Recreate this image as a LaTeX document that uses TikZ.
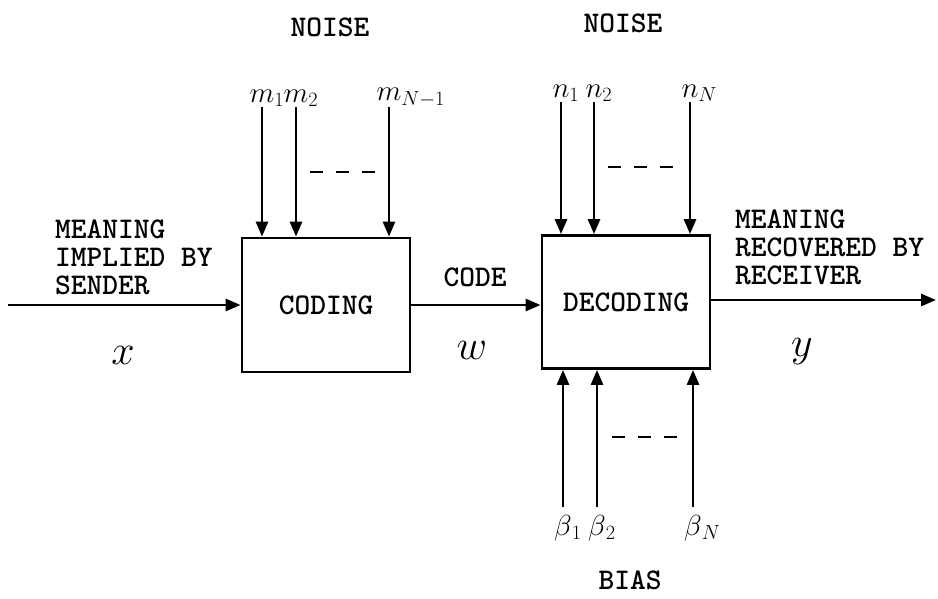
\RequirePackage{fix-cm}
\documentclass[tikz,border=0pt]{standalone}
\usepackage{fontspec}
\usetikzlibrary{arrows.meta, positioning}

\begin{document}
\begin{tikzpicture}[
  x=1pt, y=-1pt,
  blk/.style={draw, line width=2.8pt, minimum width=168pt, minimum height=134pt, inner sep=0pt, font=\ttfamily\bfseries\fontsize{30}{28}\selectfont},
  txt/.style={inner sep=0pt, align=left, font=\ttfamily\bfseries\fontsize{30}{28}\selectfont},
  sym/.style={inner sep=0pt, font=\fontsize{42}{42}\selectfont},
  lab/.style={inner sep=0pt, font=\fontsize{29}{29}\selectfont},
  arr/.style={-{Triangle[length=15pt,width=12pt]}, line width=2.8pt},
  gap/.style={line width=2.2pt, dash pattern=on 13pt off 13pt}
]
\useasboundingbox (0,0) rectangle (938,598);

\node[blk] (cod) at (326,305) {CODING};
\node[blk, minimum height=133pt] (dec) at (626,302) {DECODING};

\node[txt, anchor=west] (snd) at (55,257) {MEANING\\IMPLIED BY\\SENDER};
\node[txt, anchor=west] (rcv) at (735,247) {MEANING\\RECOVERED BY\\RECEIVER};
\node[txt] (code) at (475,277) {CODE};
\node[txt] (nz1) at (330,27) {NOISE};
\node[txt] (nz2) at (623,23) {NOISE};
\node[txt] (bias) at (630,580) {BIAS};

\node[sym] (xv) at (123,355) {$x$};
\node[sym] (wv) at (472,350) {$w$};
\node[sym] (yv) at (802,352) {$y$};

\coordinate (src) at (8,305);
\coordinate (dst) at (936,300);
\draw[arr] (src) -- (cod.west);
\draw[arr] (cod.east) -- (cod.east -| dec.west);
\draw[arr] (dec.east |- dst) -- (dst);

\coordinate (m1t) at (262,107);
\coordinate (m2t) at (296,107);
\coordinate (m3t) at (389,107);
\node[lab, above=0pt of m1t] (m1) {$m\rlap{$_1$}$};
\node[lab, above=0pt of m2t] (m2) {$m\rlap{$_2$}$};
\node[lab, above=0pt of m3t] (m3) {$m\rlap{$_{N-1}$}$};
\draw[arr] (m1t) -- (m1t |- cod.north);
\draw[arr] (m2t) -- (m2t |- cod.north);
\draw[arr] (m3t) -- (m3t |- cod.north);
\draw[gap] (310,172) -- (375,172);

\coordinate (n1t) at (561,102);
\coordinate (n2t) at (594,102);
\coordinate (n3t) at (690,102);
\node[lab, above=0pt of n1t] (n1) {$n\rlap{$_1$}$};
\node[lab, above=0pt of n2t] (n2) {$n\rlap{$_2$}$};
\node[lab, above=0pt of n3t] (n3) {$n\rlap{$_N$}$};
\draw[arr] (n1t) -- (n1t |- dec.north);
\draw[arr] (n2t) -- (n2t |- dec.north);
\draw[arr] (n3t) -- (n3t |- dec.north);
\draw[gap] (608,167) -- (674,167);

\coordinate (b1t) at (563,507);
\coordinate (b2t) at (597,507);
\coordinate (b3t) at (693,507);
\node[lab, below=8pt of b1t] (b1) {$\beta\rlap{$_1$}$};
\node[lab, below=8pt of b2t] (b2) {$\beta\rlap{$_2$}$};
\node[lab, below=8pt of b3t] (b3) {$\beta\rlap{$_N$}$};
\draw[arr] (b1t) -- (b1t |- dec.south);
\draw[arr] (b2t) -- (b2t |- dec.south);
\draw[arr] (b3t) -- (b3t |- dec.south);
\draw[gap] (612,437) -- (678,437);
\end{tikzpicture}
\end{document}
